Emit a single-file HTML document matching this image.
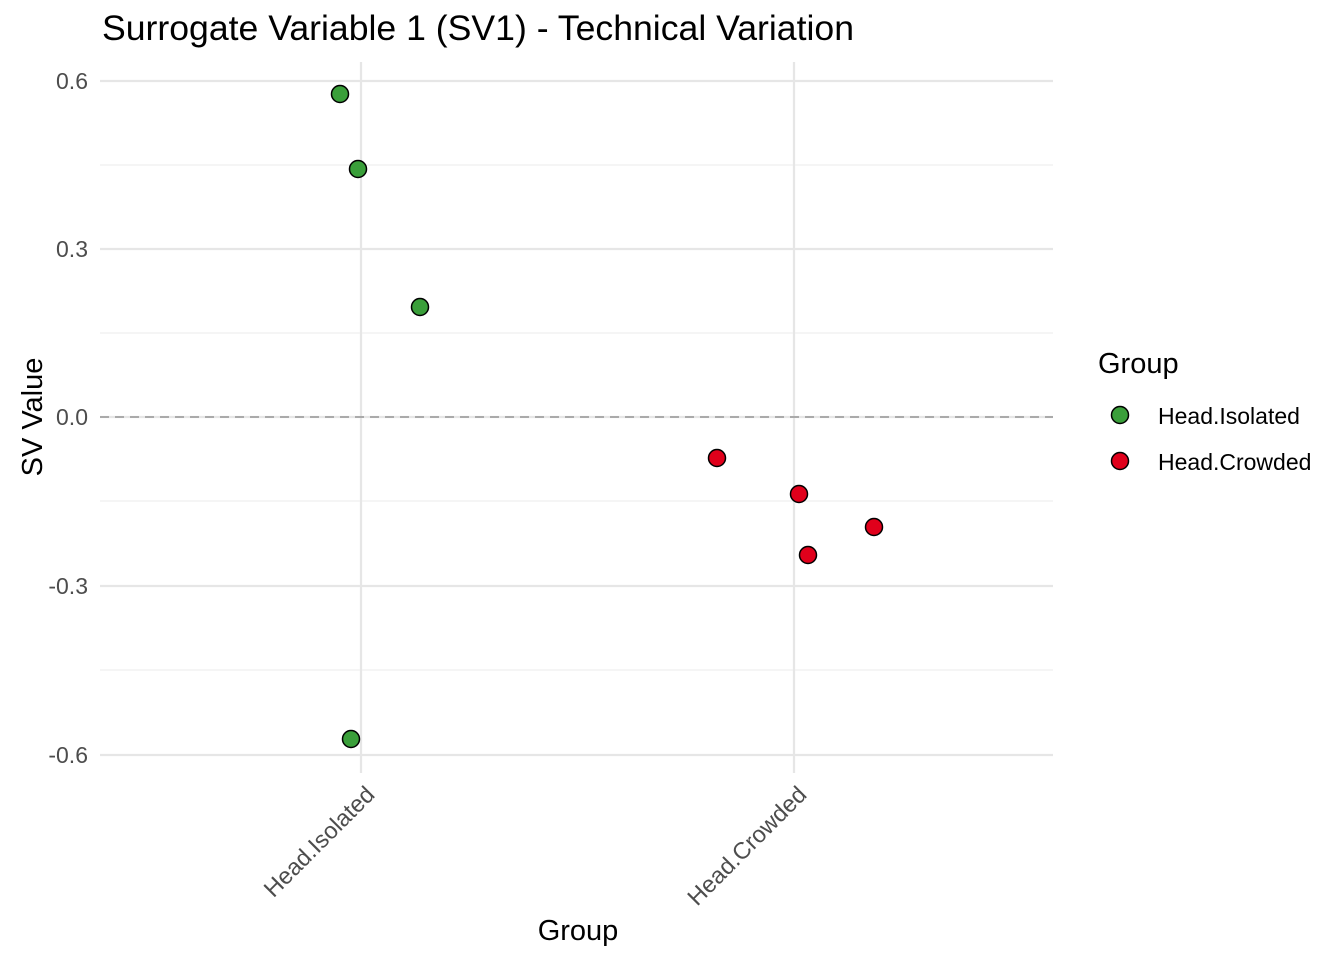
<!DOCTYPE html>
<html><head><meta charset="utf-8"><style>
html,body{margin:0;padding:0;background:#fff;}
svg{display:block;font-family:"Liberation Sans",Arial,sans-serif;}
</style></head><body>
<svg width="1344" height="960" viewBox="0 0 1344 960">
<rect width="1344" height="960" fill="#fff"/>
<text x="102" y="40" font-size="35" fill="#000" textLength="752" lengthAdjust="spacingAndGlyphs">Surrogate Variable 1 (SV1) - Technical Variation</text>
<g stroke="#ebebeb" stroke-width="1.1">
<line x1="100" x2="1053" y1="165" y2="165"/><line x1="100" x2="1053" y1="333" y2="333"/>
<line x1="100" x2="1053" y1="501" y2="501"/><line x1="100" x2="1053" y1="670" y2="670"/>
</g>
<g stroke="#e6e6e6" stroke-width="2.2">
<line x1="100" x2="1053" y1="81" y2="81"/><line x1="100" x2="1053" y1="249" y2="249"/>
<line x1="100" x2="1053" y1="417" y2="417"/><line x1="100" x2="1053" y1="586" y2="586"/>
<line x1="100" x2="1053" y1="755" y2="755"/>
<line x1="361" x2="361" y1="62" y2="773"/><line x1="794" x2="794" y1="62" y2="773"/>
</g>
<line x1="100" x2="1053" y1="417" y2="417" stroke="#aaa" stroke-width="2" stroke-dasharray="9,6"/>
<g font-size="23" fill="#4d4d4d" text-anchor="end">
<text x="88" y="89">0.6</text><text x="88" y="257">0.3</text><text x="88" y="425">0.0</text>
<text x="88" y="594">-0.3</text><text x="88" y="763">-0.6</text>
</g>
<g font-size="23.5" fill="#4d4d4d" text-anchor="end">
<text transform="translate(376,796) rotate(-45)">Head.Isolated</text>
<text transform="translate(808,796) rotate(-45)">Head.Crowded</text>
</g>
<text x="578" y="940" font-size="29" text-anchor="middle">Group</text>
<text transform="translate(42,417) rotate(-90)" font-size="29" text-anchor="middle">SV Value</text>
<g stroke="#000" stroke-width="1.5">
<g fill="#3a9f3a"><circle cx="340" cy="94" r="8.5"/><circle cx="358" cy="169" r="8.5"/><circle cx="420" cy="307" r="8.5"/><circle cx="351" cy="739" r="8.5"/></g>
<g fill="#e0001b"><circle cx="717" cy="458" r="8.5"/><circle cx="799" cy="494" r="8.5"/><circle cx="874" cy="527" r="8.5"/><circle cx="808" cy="555" r="8.5"/></g>
</g>
<text x="1098" y="373" font-size="29">Group</text>
<g stroke="#000" stroke-width="1.5">
<circle cx="1120" cy="415" r="8.5" fill="#3a9f3a"/><circle cx="1120" cy="461" r="8.5" fill="#e0001b"/>
</g>
<g font-size="23" fill="#000">
<text x="1158" y="424">Head.Isolated</text><text x="1158" y="470">Head.Crowded</text>
</g>
</svg>
</body></html>
